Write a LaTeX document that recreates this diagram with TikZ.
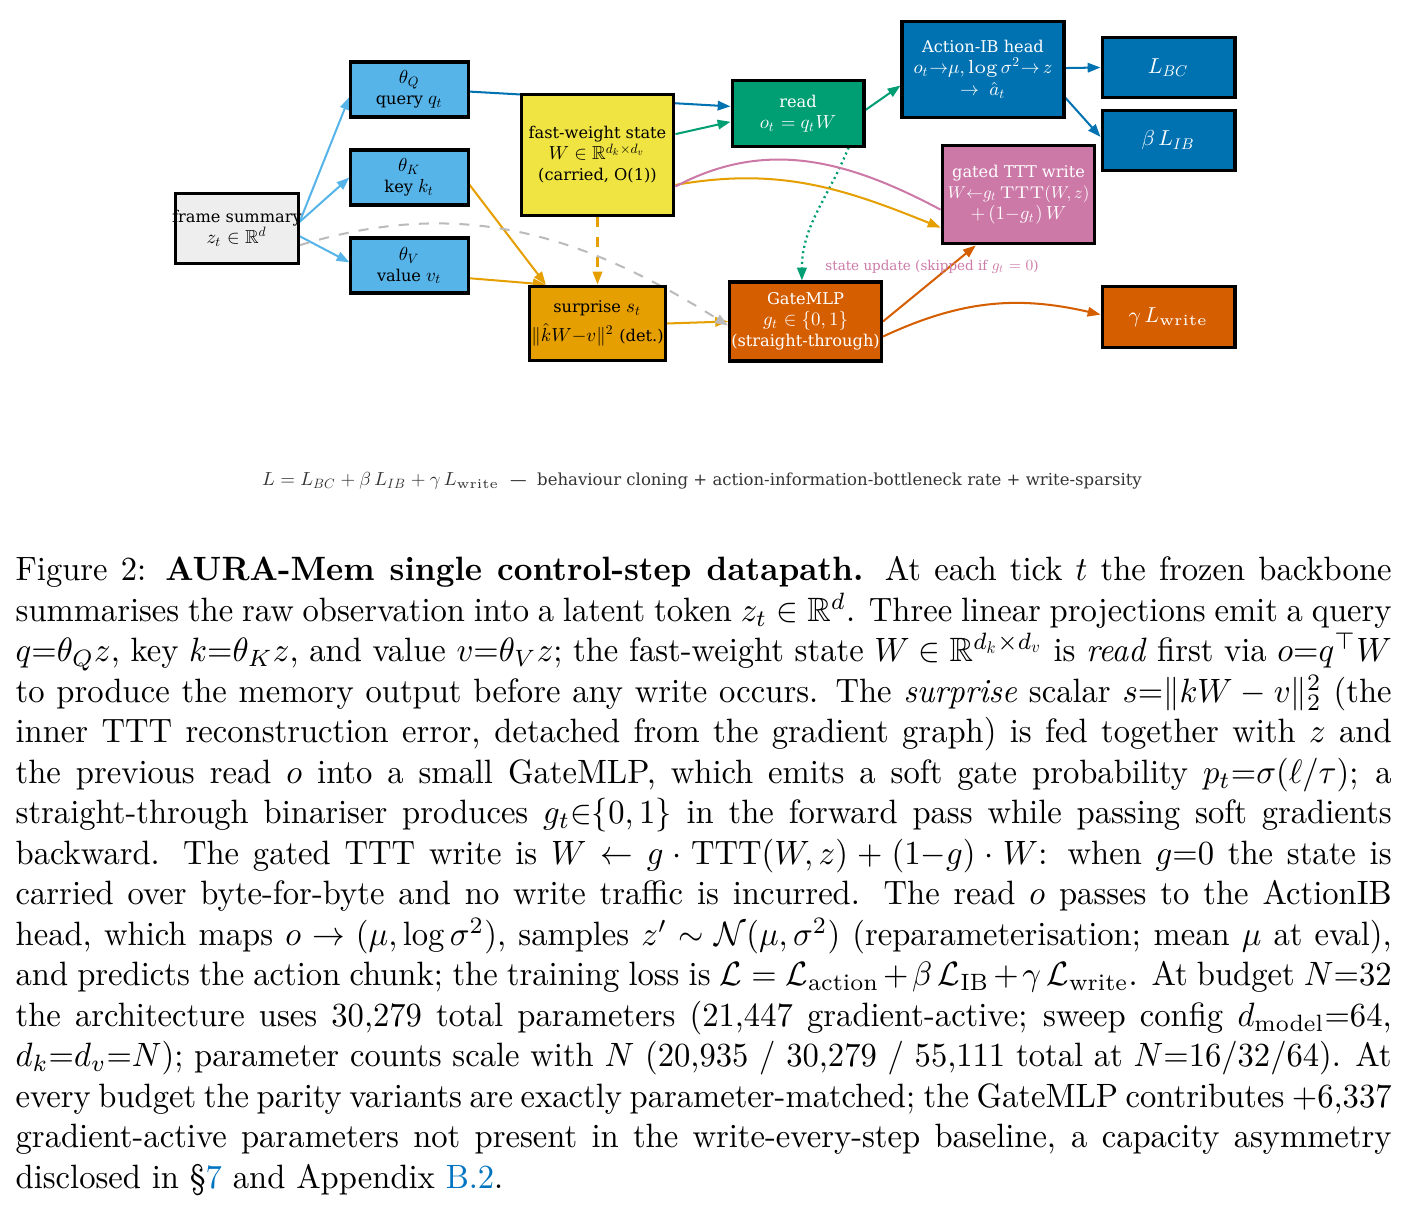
\RequirePackage{fix-cm}
\documentclass[tikz,border=0pt]{standalone}
\usepackage{amsmath,amssymb,graphicx}
\usepackage{fontspec}
\newfontfamily\dvserif{DejaVu Serif}
\usetikzlibrary{arrows.meta,backgrounds}
% small math uses the 10pt designs, scaled down
\DeclareFontShape{OML}{cmm}{m}{it}{<-6.5>cmmi10 <6.5-7.5>cmmi7 <7.5-8.5>cmmi8 <8.5-9.5>cmmi9 <9.5-11>cmmi10 <11->cmmi12}{}
\DeclareFontShape{OMS}{cmsy}{m}{n}{<-6.5>cmsy10 <6.5-7.5>cmsy7 <7.5-8.5>cmsy8 <8.5-9.5>cmsy9 <9.5->cmsy10}{}
\DeclareFontShape{OT1}{cmr}{m}{n}{<-6.5>cmr10 <6.5-7.5>cmr7 <7.5-8.5>cmr8 <8.5-9.5>cmr9 <9.5-11>cmr10 <11->cmr12}{}
\DeclareMathSizes{4.8}{5.6}{4}{3}
\DeclareMathSizes{5.6}{6.4}{4.6}{3.5}
\DeclareMathSizes{4}{4.6}{3.3}{2.6}
\DeclareMathSizes{4.9}{5.6}{4}{3}

\definecolor{okSky}{HTML}{56B4E9}
\definecolor{okBlue}{HTML}{0072B2}
\definecolor{okGreen}{HTML}{009E73}
\definecolor{okYellow}{HTML}{F0E442}
\definecolor{okOrange}{HTML}{E69F00}
\definecolor{okVerm}{HTML}{D55E00}
\definecolor{okPink}{HTML}{CC79A7}
\definecolor{okGrey}{HTML}{EEEEEE}
\definecolor{dashGrey}{HTML}{BBBBBB}
\definecolor{linkblue}{RGB}{0,116,193}

\newcommand\figline[1]{\hbox to \hsize{#1}}

\begin{document}
\begin{tikzpicture}[x=0.2963pt, y=-0.2963pt, >={Triangle[length=3.8pt,width=2.8pt]},
   box_style/.style={rectangle, draw=black, line width=0.9pt, align=center, inner sep=0.5pt,
     font=\dvserif\fontsize{4.8}{6.2}\selectfont},
   loss_style/.style={box_style, fill=okBlue, text=white, minimum width=39.4pt, minimum height=18pt,
     font=\dvserif\fontsize{5.6}{6.6}\selectfont},
   edge_style/.style={->, line width=0.6pt}]
	\useasboundingbox (0,0) rectangle (1411,1211);

	\node [box_style,fill=okGrey,minimum width=36.2pt,minimum height=21pt] (frame) at (237,228.5) {\makebox[30pt]{frame summary}\\ $z_t \in \mathbb{R}^d$};
	\node [box_style,fill=okSky,minimum width=34.7pt,minimum height=16.3pt] (q) at (409.5,89.5) {$\theta_Q$\\ query $q_t$};
	\node [box_style,fill=okSky,minimum width=34.7pt,minimum height=16.3pt] (k) at (409.5,177.5) {$\theta_K$\\ key $k_t$};
	\node [box_style,fill=okSky,minimum width=34.7pt,minimum height=16.3pt] (v) at (409.5,265.5) {$\theta_V$\\ value $v_t$};
	\node [box_style,fill=okYellow,minimum width=45.3pt,minimum height=35.6pt] (fast) at (597.5,155) {fast-weight state\\ $W \in \mathbb{R}^{d_k \times d_v}$\\ (carried, O(1))};
	\node [box_style,fill=okGreen,text=white,minimum width=39.1pt,minimum height=19.3pt] (read) at (798,113.5) {read\\ $o_t = q_t W$};
	\node [box_style,fill=okBlue,text=white,minimum width=48pt,minimum height=28.2pt] (head) at (983,69.5) {Action-IB head\\ $o_t{\to}\mu, \log\sigma^2{\to}\, z$\\[0.5pt] $\to\ \hat{a}_t$};
	\node [loss_style] (lbc) at (1168.5,67.5) {$L_{BC}$};
	\node [loss_style] (lib) at (1168.5,140.5) {$\beta\,L_{IB}$};
	\node [box_style,fill=okPink,text=white,minimum width=45.3pt,minimum height=29.3pt] (gated) at (1018.5,194.5) {gated TTT write\\ \scalebox{0.9}{$W{\leftarrow}g_t\,\mathrm{TTT}(W\!,z)$}\\ $+\,(1{-}g_t)\,W$};
	\node [box_style,fill=okOrange,minimum width=39.4pt,minimum height=22.2pt] (surp) at (597.5,323.5) {surprise $s_t$\\[1pt] $\|\hat{k}W{-}v\|^2$ (det.)};
	\node [box_style,fill=okVerm,text=white,minimum width=43.6pt,minimum height=23.4pt] (gate) at (805.5,321.5) {GateMLP\\ $g_t \in \{0,1\}$\\ (straight-through)};
	\node [loss_style,fill=okVerm,minimum height=17.8pt] (lwrite) at (1168.5,317) {$\gamma\,L_{\mathrm{write}}$};

	\node [text=okPink,font=\dvserif\fontsize{4}{4.8}\selectfont,inner sep=0] (updnote) at (932,267) {state update (skipped if $g_t = 0$)};
	\node [text=black!80,font=\dvserif\fontsize{4.9}{5.8}\selectfont,inner sep=0] (losstext) at (702,481)
	  {$L = L_{BC} + \beta\,L_{IB} + \gamma\,L_{\mathrm{write}}$ \ — \ behaviour cloning + action-information-bottleneck rate + write-sparsity};

	\begin{scope}[on background layer]
	\foreach \from/\to/\col in {
		frame.6/q.187/okSky,
		frame.6/k.180/okSky,
		frame.-7/v.177/okSky,
		q.-2/read.174/okBlue,
		fast.15/read.187/okGreen,
		read.3/head.191/okGreen,
		head.1/lbc.180/okBlue,
		head.-19/lib.177/okBlue,
		k.-7/surp.143/okOrange,
		v.-12/surp.143/okOrange,
		surp.0/gate.180/okOrange,
		gate.0/gated.230/okVerm}
	  \draw [edge_style, draw=\col] (\from) -- (\to);

	\draw [edge_style, draw=okOrange, dashed] (fast.south) -- (surp.north);
	\draw [edge_style, draw=okGreen, densely dotted, line width=0.7pt] (read.-34) to[out=-112,in=90] (gate.95);
	\draw [edge_style, draw=dashGrey, dashed] (frame.-15) to[out=17,in=148] (gate.183);
	\draw [edge_style, draw=okOrange] (fast.-21) to[out=10,in=158] (gated.203);
	\draw [line width=0.6pt, draw=okPink] (fast.-22) to[out=28,in=152] (gated.191);
	\draw [edge_style, draw=okVerm] (gate.-11) to[out=25,in=167] (lwrite.178);
	\end{scope}

	\node [anchor=north west, inner sep=0] (caption) at (15,556) {\scalebox{0.9661}[1]{\parbox{422pt}{\normalsize
	\figline{Figure 2: \textbf{AURA-Mem single control-step datapath.} At each tick $t$ the frozen backbone}
	\figline{summarises the raw observation into a latent token $z_t \in \mathbb{R}^d$. Three linear projections emit a query}
	\figline{$q{=}\theta_Q z$, key $k{=}\theta_K z$, and value $v{=}\theta_V z$; the fast-weight state $W \in \mathbb{R}^{d_k \times d_v}$ is \emph{read} first via $o{=}q^\top W$}
	\figline{to produce the memory output before any write occurs. The \emph{surprise} scalar $s{=}\|kW - v\|_2^2$ (the}
	\figline{inner TTT reconstruction error, detached from the gradient graph) is fed together with $z$ and}
	\figline{the previous read $o$ into a small GateMLP, which emits a soft gate probability $p_t{=}\sigma(\ell/\tau)$; a}
	\figline{straight-through binariser produces $g_t{\in}\{0,1\}$ in the forward pass while passing soft gradients}
	\figline{backward. The gated TTT write is $W \leftarrow g \cdot \mathrm{TTT}(W,z) + (1{-}g)\cdot W$: when $g{=}0$ the state is}
	\figline{carried over byte-for-byte and no write traffic is incurred. The read $o$ passes to the ActionIB}
	\figline{head, which maps $o \to (\mu, \log\sigma^2)$, samples $z' \sim \mathcal{N}(\mu,\sigma^2)$ (reparameterisation; mean $\mu$ at eval),}
	\figline{and predicts the action chunk; the training loss is $\mathcal{L} = \mathcal{L}_{\text{action}} + \beta\,\mathcal{L}_{\text{IB}} + \gamma\,\mathcal{L}_{\text{write}}$. At budget $N{=}32$}
	\figline{the architecture uses 30,279 total parameters (21,447 gradient-active; sweep config $d_{\text{model}}{=}64$,}
	\figline{$d_k{=}d_v{=}N$); parameter counts scale with $N$ (20,935 / 30,279 / 55,111 total at $N{=}16/32/64$). At}
	\figline{every budget the parity variants are exactly parameter-matched; the GateMLP contributes +6,337}
	\figline{gradient-active parameters not present in the write-every-step baseline, a capacity asymmetry}
	\figline{disclosed in \S\textcolor{linkblue}{7} and Appendix \textcolor{linkblue}{B.2}.\hfil}}}};

\end{tikzpicture}
\end{document}
